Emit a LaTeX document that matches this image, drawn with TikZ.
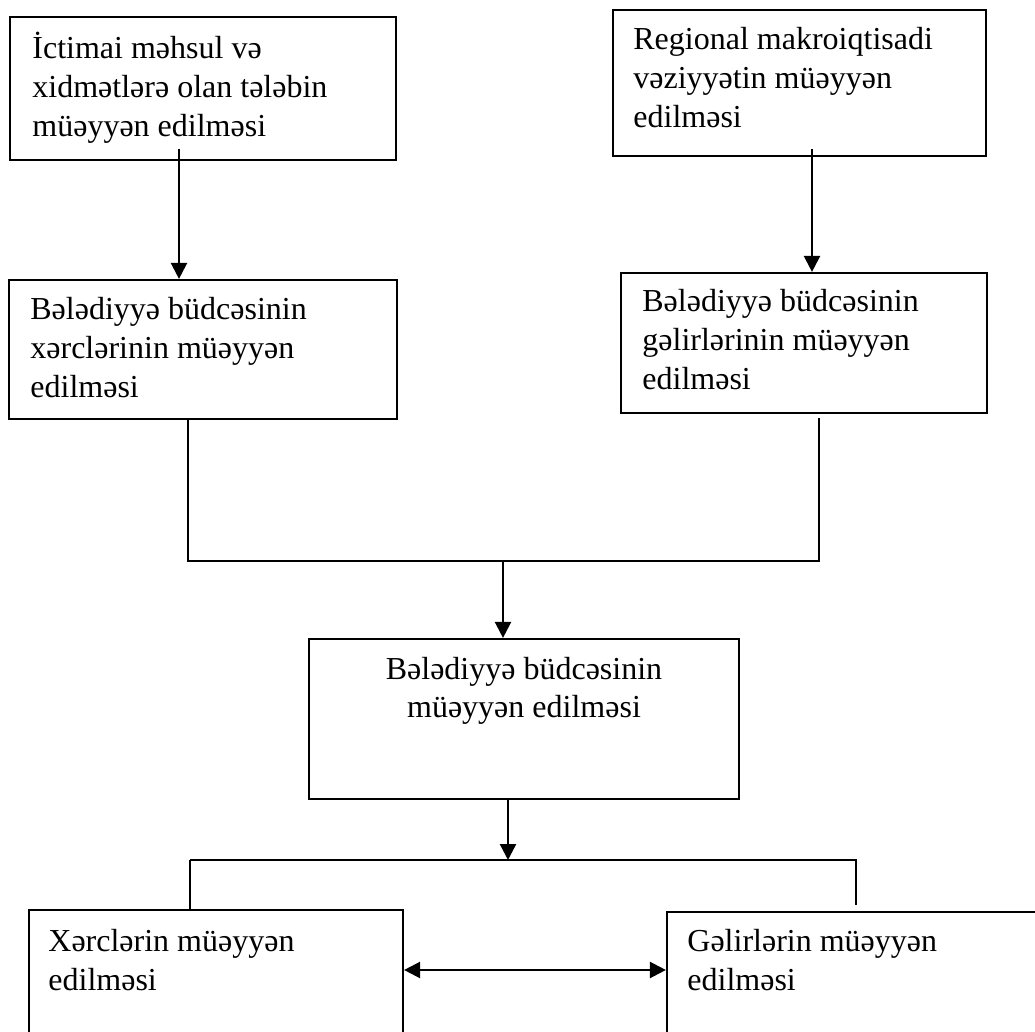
\documentclass[tikz,border=0pt]{standalone}
\usepackage{fontspec}
\setmainfont{Liberation Serif}
\usetikzlibrary{arrows.meta,fit}
\begin{document}
\begin{tikzpicture}[x=0.5pt,y=-0.5pt,
  box/.style={draw, line width=1.1pt, inner sep=0pt},
  txt/.style={anchor=base west, inner sep=0pt, align=left, font=\fontsize{16pt}{19.5pt}\selectfont},
  conn/.style={line width=1.2pt},
  arr/.style={conn, -{Triangle[length=8pt,width=8pt]}},
  darr/.style={conn, {Triangle[length=8pt,width=8pt]}-{Triangle[length=8pt,width=8pt]}}]
\path[use as bounding box, clip] (0,0) rectangle (1035,1032);
\fill[white] (0,0) rectangle (1035,1032);

% boxes
\node[box, fit={(10,17) (396,160)}] (A) {};
\node[box, fit={(9,280) (397,419)}] (B) {};
\node[box, fit={(613,10) (986,156)}] (C) {};
\node[box, fit={(621,273) (987,413)}] (D) {};
\node[box, fit={(309,639) (739,799)}] (E) {};
\node[box, fit={(29,910) (403,1050)}] (F) {};
\node[box, fit={(667,912) (1050,1050)}] (G) {};

% texts (anchored at the baseline of the last line)
\node[txt] (At) at (32,137) {İctimai məhsul və\\xidmətlərə olan tələbin\\müəyyən edilməsi};
\node[txt] (Bt) at (30,398) {Bələdiyyə büdcəsinin\\xərclərinin müəyyən\\edilməsi};
\node[txt] (Ct) at (633,128) {Regional makroiqtisadi\\vəziyyətin müəyyən\\edilməsi};
\node[txt] (Dt) at (642,390) {Bələdiyyə büdcəsinin\\gəlirlərinin müəyyən\\edilməsi};
\node[txt, anchor=base, align=center] (Et) at (524,718) {Bələdiyyə büdcəsinin\\müəyyən edilməsi};
\node[txt] (Ft) at (48,990) {Xərclərin müəyyən\\edilməsi};
\node[txt] (Gt) at (687,990) {Gəlirlərin müəyyən\\edilməsi};

% connector points
\coordinate (a1) at (179,149);
\coordinate (c1) at (812,149);
\coordinate (bl) at (188,419);
\coordinate (dr) at (819,418);
\coordinate (j1) at (503,561);
\coordinate (e1) at (508,799);
\coordinate (j2) at (508,860);
\coordinate (fl) at (190,860);
\coordinate (gr) at (856,860);
\coordinate (gr2) at (856,905);

\draw[arr] (a1) -- (a1 |- B.north);
\draw[arr] (c1) -- (c1 |- D.north);
\draw[conn] (bl) -- (bl |- j1) -- (dr |- j1) -- (dr);
\draw[arr] (j1) -- (j1 |- E.north);
\draw[arr] (e1) -- (j2);
\draw[conn] (fl) -- (gr) -- (gr2);
\draw[conn] (fl) -- (fl |- F.north);
\draw[darr] (F.east |- 0,970) -- (G.west |- 0,970);
\end{tikzpicture}
\end{document}
